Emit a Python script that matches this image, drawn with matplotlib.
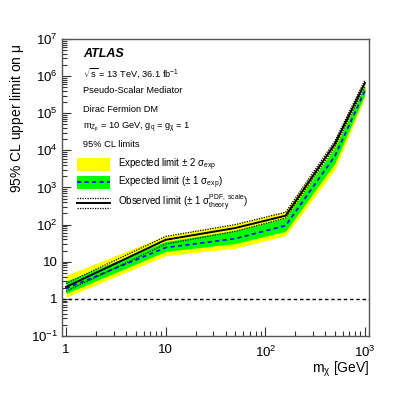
import math
import matplotlib
matplotlib.use("Agg")
import matplotlib.pyplot as plt
from matplotlib.patches import Rectangle
from matplotlib.lines import Line2D
from matplotlib.ticker import LogLocator, FuncFormatter, NullFormatter

plt.rcParams['font.family'] = ['Liberation Sans', 'DejaVu Sans']
plt.rcParams['mathtext.fontset'] = 'custom'
plt.rcParams['mathtext.rm'] = 'Liberation Sans'
plt.rcParams['mathtext.it'] = 'Liberation Sans'
plt.rcParams['mathtext.bf'] = 'Liberation Sans:bold'

# Data
mchi = [1, 10, 50, 160, 500, 1000]
exp = [1.9, 24, 42, 94, 7.0e3, 4.0e5]
exp_1up = [3.0, 35, 69, 151, 1.2e4, 5.5e5]
exp_1dn = [1.4, 19, 31, 66, 4.5e3, 3.2e5]
exp_2up = [4.3, 51, 105, 230, 1.7e4, 7.5e5]
exp_2dn = [1.1, 14.5, 23, 50, 3.0e3, 2.6e5]
obs = [2.1, 39, 81, 174, 1.5e4, 6.5e5]
obs_up = [2.6, 48, 100, 215, 1.8e4, 7.8e5]
obs_dn = [1.6, 30, 66, 150, 1.25e4, 5.3e5]

fig = plt.figure(figsize=(4.11, 3.95), dpi=100)
ax = fig.add_axes([0.1509, 0.1494, 0.7469, 0.7519])

ax.fill_between(mchi, exp_2dn, exp_2up, color='#ffff00', lw=0)
ax.fill_between(mchi, exp_1dn, exp_1up, color='#00ff00', lw=0)
ax.plot(mchi, exp, color='#0000ff', ls=(0, (2.5, 2)), lw=1.2)
ax.plot(mchi, obs, color='black', lw=1.4)
ax.plot(mchi, obs_up, color='black', ls=(0, (1, 1)), lw=0.9)
ax.plot(mchi, obs_dn, color='black', ls=(0, (1, 1)), lw=0.9)
ax.axhline(1, color='black', ls=(0, (2.5, 2)), lw=1)

ax.set_xscale('log')
ax.set_yscale('log')
ax.set_xlim(0.91, 1100)
ax.set_ylim(0.1, 1e7)


def fmt(v, pos):
    if abs(v - 1) < 1e-9:
        return '1'
    if abs(v - 10) < 1e-9:
        return '10'
    return r'$10^{%d}$' % int(round(math.log10(v)))


ax.xaxis.set_major_locator(LogLocator(base=10, numticks=20))
ax.yaxis.set_major_locator(LogLocator(base=10, numticks=20))
ax.xaxis.set_minor_locator(LogLocator(base=10, subs=range(2, 10), numticks=20))
ax.yaxis.set_minor_locator(LogLocator(base=10, subs=range(2, 10), numticks=20))
ax.xaxis.set_major_formatter(FuncFormatter(fmt))
ax.yaxis.set_major_formatter(FuncFormatter(fmt))
ax.xaxis.set_minor_formatter(NullFormatter())
ax.yaxis.set_minor_formatter(NullFormatter())
ax.tick_params(which='both', direction='in', top=False, right=False,
               labelsize=9.5, width=0.8, color='#333333')
ax.tick_params(which='major', length=6.5)
ax.tick_params(which='minor', length=3.3)
ax.tick_params(axis='x', pad=6)
ax.tick_params(axis='y', pad=3)
for s in ax.spines.values():
    s.set_color('#555555')
    s.set_linewidth(1.0)

ax.set_ylabel(r'95% CL upper limit on $\mu$', fontsize=10, loc='top')
ax.yaxis.set_label_coords(-0.116, 0.985)
ax.set_xlabel(r'm$_{\chi}$ [GeV]', fontsize=10, loc='right')
ax.xaxis.set_label_coords(1.0, -0.08)

# Legend / labels
tx = 0.0684
ax.text(tx, 0.9495, 'ATLAS', transform=ax.transAxes, fontsize=9,
        fontweight='bold', fontstyle='italic', va='center')
info = [
    (0.8855, r'$\sqrt{\rm s}$ = 13 TeV, 36.1 fb$^{-1}$'),
    (0.825, 'Pseudo-Scalar Mediator'),
    (0.764, 'Dirac Fermion DM'),
    (0.704, r'm$_{\rm Z_{p}}$ = 10 GeV, g$_{\rm q}$ = g$_{\chi}$ = 1'),
    (0.646, '95% CL limits'),
]
for y, t in info:
    ax.text(tx, y, t, transform=ax.transAxes, fontsize=6.7, va='center')

bx0, bx1 = 0.0489, 0.1564
ax.add_patch(Rectangle((bx0, 0.5556), bx1 - bx0, 0.0437, transform=ax.transAxes,
                       color='#ffff00', lw=0))
ax.add_patch(Rectangle((bx0, 0.4949), bx1 - bx0, 0.0438, transform=ax.transAxes,
                       color='#00ff00', lw=0))
ax.add_line(Line2D([bx0, bx1], [0.5168, 0.5168], transform=ax.transAxes,
                   color='#0000ff', ls=(0, (2.5, 2)), lw=1.2))
ax.add_line(Line2D([bx0, bx1], [0.4478, 0.4478], transform=ax.transAxes,
                   color='black', lw=1.4))
for yy in (0.4646, 0.4310):
    ax.add_line(Line2D([bx0, bx1], [yy, yy], transform=ax.transAxes,
                       color='black', ls=(0, (1, 1)), lw=0.9))

lx = 0.1824
ax.text(lx, 0.5775, r'Expected limit $\pm$ 2 $\sigma_{\rm exp}$',
        transform=ax.transAxes, fontsize=7, va='center')
ax.text(lx, 0.5168, r'Expected limit ($\pm$ 1 $\sigma_{\rm exp}$)',
        transform=ax.transAxes, fontsize=7, va='center')
ax.text(lx, 0.4478, r'Observed limit ($\pm$ 1 $\sigma^{\rm PDF,\ scale}_{\rm theory}$)',
        transform=ax.transAxes, fontsize=7, va='center')

fig.savefig('out.png', dpi=100)
